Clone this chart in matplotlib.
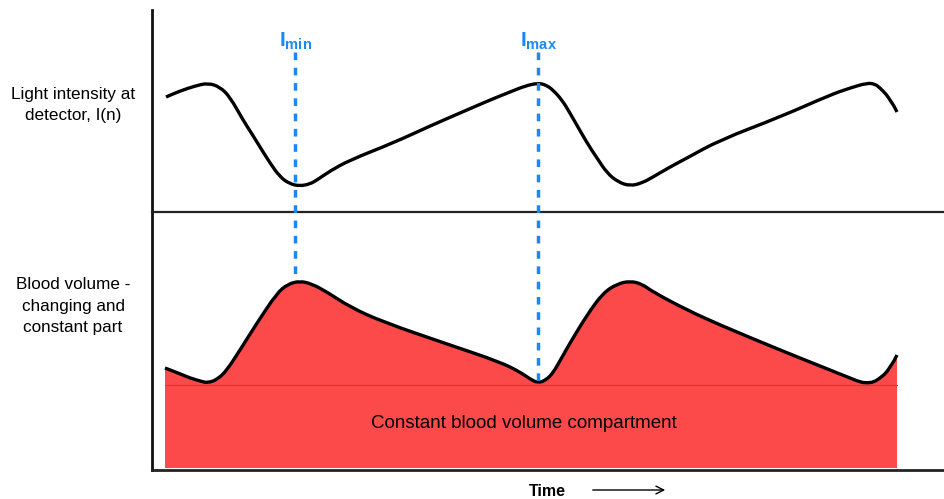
import matplotlib.pyplot as plt
from matplotlib.path import Path
from matplotlib.patches import PathPatch
import numpy as np

plt.rcParams["font.family"] = ["Liberation Sans", "DejaVu Sans"]
plt.rcParams["mathtext.fontset"] = "custom"
plt.rcParams["mathtext.bf"] = "Liberation Sans:bold"
plt.rcParams["mathtext.rm"] = "Liberation Sans"

# ── Data (picture units: x = time, y = screen height, smaller = higher) ─────
t_light = [166, 180, 195, 208, 220, 230, 243, 252, 260, 270, 280, 290, 300, 310,
           317, 330, 350, 393, 430, 460, 490, 510, 525, 538, 546, 553, 562, 570,
           587, 597, 607, 618, 630, 642, 653, 670, 687, 720, 780, 830, 850, 867,
           875, 880, 886, 890, 894, 897]
light = [97, 91, 86, 83, 87, 97, 120, 134, 147, 163, 177, 184, 186, 184,
         180, 171, 160, 143, 126, 113, 100, 92, 86, 83, 85, 90, 100, 113,
         143, 158, 173, 182, 186, 183, 177, 167, 158, 140, 117, 95, 88, 83,
         84, 88, 94, 100, 106, 112]

t_blood = [165, 178, 190, 200, 208, 218, 227, 240, 257, 277, 288, 300, 312, 327,
           350, 383, 450, 500, 520, 530, 538, 546, 553, 561, 570, 587, 603, 617,
           630, 642, 653, 687, 720, 780, 830, 850, 860, 867, 874, 880, 886, 890,
           894, 897]
blood = [368, 373, 378, 381, 383, 379, 370, 350, 323, 293, 284, 281, 284, 292,
         307, 322, 345, 362, 372, 379, 383, 380, 373, 359, 343, 315, 293, 284,
         281, 284, 292, 310, 325, 350, 370, 378, 382, 383, 382, 378, 373, 367,
         361, 355]

fill_bottom = 468
baseline = 385
t_min, t_max = 295, 538
labels_left = ["Light intensity at\ndetector, I(n)", "Blood volume -\nchanging and\nconstant part"]


def smooth_path(xs, ys, close_to=None):
    # quadratic Bezier through midpoints, so the drawn stroke has no corners
    pts = np.column_stack([xs, ys]).astype(float)
    verts = [pts[0], (pts[0] + pts[1]) / 2]
    codes = [Path.MOVETO, Path.LINETO]
    for i in range(1, len(pts) - 1):
        verts += [pts[i], (pts[i] + pts[i + 1]) / 2]
        codes += [Path.CURVE3, Path.CURVE3]
    verts.append(pts[-1])
    codes.append(Path.LINETO)
    if close_to is not None:
        verts += [(pts[-1][0], close_to), (pts[0][0], close_to), pts[0]]
        codes += [Path.LINETO, Path.LINETO, Path.CLOSEPOLY]
    return Path(verts, codes)


# ── Canvas ─────────────────────────────────────────────────────────────────
fig = plt.figure(figsize=(9.44, 4.99), dpi=100)
ax = fig.add_axes([0, 0, 1, 1])
ax.set_xlim(0, 944)
ax.set_ylim(499, 0)
ax.axis("off")

red = "#fc4a4a"
blue = "#1a88f5"

ax.add_patch(PathPatch(smooth_path(t_blood, blood, close_to=fill_bottom),
                       facecolor=red, lw=0, zorder=1))
ax.plot([t_blood[0], t_blood[-1]], [baseline, baseline], color="#8a5a5a", lw=0.8, zorder=2)
ax.add_patch(PathPatch(smooth_path(t_blood, blood), facecolor="none",
                       edgecolor="black", lw=2.4, capstyle="butt", zorder=3))
ax.add_patch(PathPatch(smooth_path(t_light, light), facecolor="none",
                       edgecolor="black", lw=2.4, capstyle="butt", zorder=3))

# axes frame
ax.plot([152, 152], [10, 470], color="#111111", lw=2)
ax.plot([152, 944], [470, 470], color="#222222", lw=2)
ax.plot([152, 944], [212, 212], color="#222222", lw=1.6)

# dashed markers
ax.plot([t_min, t_min], [52, blood[11]], color=blue, lw=2.5, ls=(0, (2.2, 2.2)), zorder=4)
ax.plot([t_max, t_max], [52, blood[20]], color=blue, lw=2.5, ls=(0, (2.2, 2.2)), zorder=4)
ax.text(t_min + 1, 41, r"$\mathbf{I_{min}}$", color=blue, fontsize=15, ha="center", va="center")
ax.text(t_max + 1, 41, r"$\mathbf{I_{max}}$", color=blue, fontsize=15, ha="center", va="center")

# labels
ax.text(73, 105, labels_left[0], fontsize=12.3, ha="center", va="center", linespacing=1.55)
ax.text(73, 306, labels_left[1], fontsize=12.3, ha="center", va="center", linespacing=1.55)
ax.text(524, 423, "Constant blood volume compartment", fontsize=13.5, ha="center", va="center")
ax.text(547, 491, "Time", fontsize=11.5, fontweight="bold", ha="center", va="center")
ax.annotate("", xy=(668, 490), xytext=(590, 490),
            arrowprops=dict(arrowstyle="->", lw=1, color="black", mutation_scale=14))

fig.savefig("out.png", dpi=100)
